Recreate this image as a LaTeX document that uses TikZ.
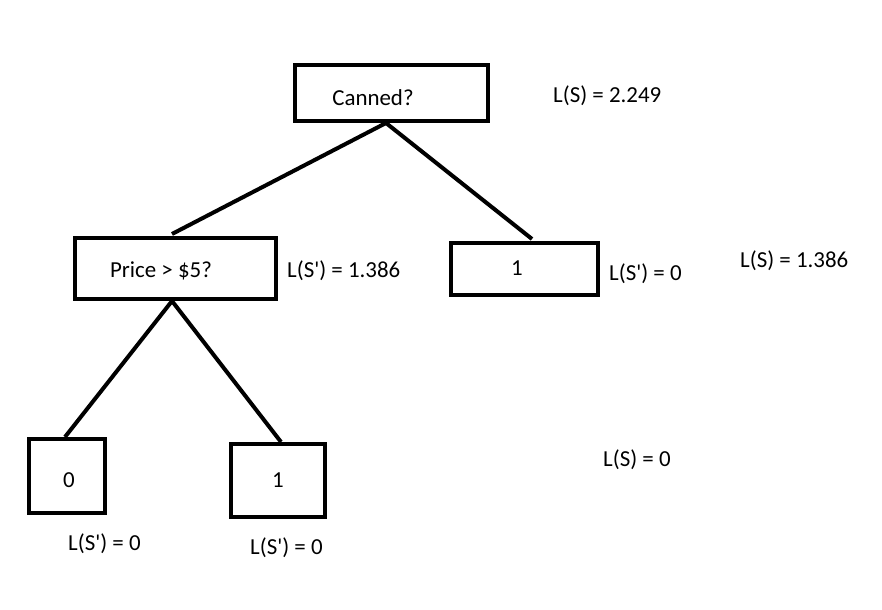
\documentclass[tikz,border=0pt]{standalone}
\usepackage{fontspec}
\setmainfont{Carlito}
\begin{document}
\begin{tikzpicture}[x=1bp,y=-1bp,
  box/.style={draw,line width=4bp,inner sep=0pt},
  edge/.style={line width=4bp},
  txt/.style={font=\fontsize{23}{27}\selectfont,inner sep=0pt}]
  \useasboundingbox[fill=white] (0,0) rectangle (882,610);
  % boxes
  \node[box,minimum width=193bp,minimum height=56bp] (canned) at (391.5,93) {};
  \node[txt] (cannedtxt) at (373,98) {Canned?};
  \node[box,minimum width=201bp,minimum height=61bp] (price) at (175.5,268.5) {};
  \node[txt] (pricetxt) at (161,271) {Price > \$5?};
  \node[box,minimum width=147bp,minimum height=52bp] (leafA) at (524.5,269) {};
  \node[txt] (leafAtxt) at (517,268) {1};
  \node[box,minimum width=76bp,minimum height=74bp] (leafB) at (67,476) {};
  \node[txt] (leafBtxt) at (69,480) {0};
  \node[box,minimum width=94bp,minimum height=73bp] (leafC) at (278,480.5) {};
  \node[txt] (leafCtxt) at (278,480) {1};
  % edges
  \draw[edge] ([xshift=-5.5bp]canned.south) -- ([xshift=-3.5bp,yshift=2bp]price.north);
  \draw[edge] ([xshift=-5.5bp]canned.south) -- ([xshift=7.5bp,yshift=2bp]leafA.north);
  \draw[edge] ([xshift=-3.5bp]price.south) -- ([xshift=-2bp]leafB.north);
  \draw[edge] ([xshift=-3.5bp]price.south) -- ([xshift=3bp]leafC.north);
  % losses
  \node[txt,anchor=west] (lossroot) at (553,96) {L(S) = 2.249};
  \node[txt,anchor=west] (lossprice) at (287,271) {L(S\textquotesingle) = 1.386};
  \node[txt,anchor=west] (lossA) at (609,274) {L(S\textquotesingle) = 0};
  \node[txt,anchor=west] (lossmid) at (740,261) {L(S) = 1.386};
  \node[txt,anchor=west] (lossB) at (68,544) {L(S\textquotesingle) = 0};
  \node[txt,anchor=west] (lossC) at (250,548) {L(S\textquotesingle) = 0};
  \node[txt,anchor=west] (losslow) at (603,460) {L(S) = 0};
\end{tikzpicture}
\end{document}
